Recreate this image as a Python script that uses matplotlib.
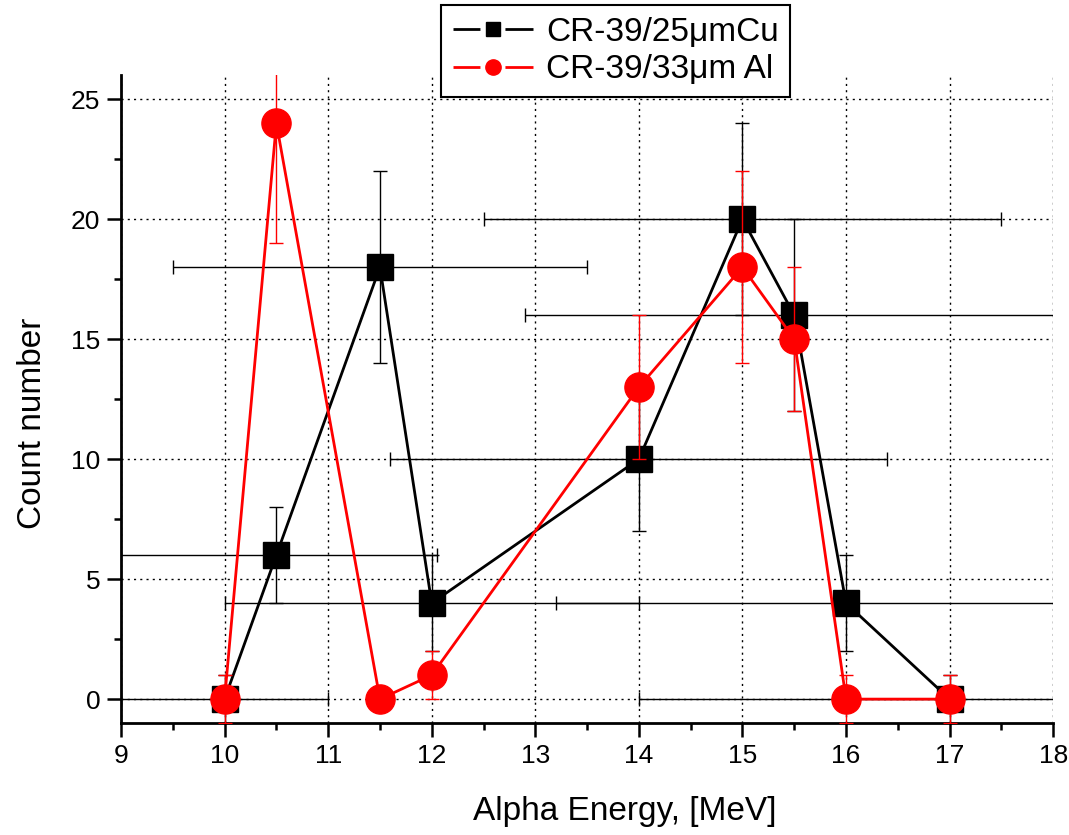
import matplotlib
matplotlib.use("Agg")
import matplotlib.pyplot as plt
from matplotlib.lines import Line2D
from matplotlib.ticker import MultipleLocator

plt.rcParams["font.family"] = ["Liberation Sans", "DejaVu Sans"]

# CR-39 / 25 um Cu
cu_energy = [10, 10.5, 11.5, 12, 14, 15, 15.5, 16, 17]
cu_count = [0, 6, 18, 4, 10, 20, 16, 4, 0]
cu_count_err = [1, 2, 4, 2, 3, 4, 4, 2, 1]
cu_energy_err = [1, 1.55, 2, 2, 2.4, 2.5, 2.6, 2.8, 3]

# CR-39 / 33 um Al
al_energy = [10, 10.5, 11.5, 12, 14, 15, 15.5, 16, 17]
al_count = [0, 24, 0, 1, 13, 18, 15, 0, 0]
al_count_err = [1, 5, 0, 1, 3, 4, 3, 1, 1]

labels = ["CR-39/25\u03bcmCu", "CR-39/33\u03bcm Al"]

fig = plt.figure(figsize=(10.69, 8.35), dpi=100)
ax = fig.add_axes([0.1132, 0.134, 0.872, 0.776])

ax.errorbar(cu_energy, cu_count, yerr=cu_count_err, xerr=cu_energy_err,
            fmt="none", ecolor="black", elinewidth=1, capsize=5, capthick=1, zorder=3)
ax.plot(cu_energy, cu_count, color="black", lw=2, marker="s", ms=18.5,
        mfc="black", mec="black", zorder=4)

ax.errorbar(al_energy, al_count, yerr=al_count_err,
            fmt="none", ecolor="red", elinewidth=1, capsize=5, capthick=1, zorder=5)
ax.plot(al_energy, al_count, color="red", lw=2, marker="o", ms=21,
        mfc="red", mec="red", zorder=6)

ax.set_xlim(9, 18)
ax.set_ylim(-1, 26)
ax.xaxis.set_major_locator(MultipleLocator(1))
ax.xaxis.set_minor_locator(MultipleLocator(0.5))
ax.yaxis.set_major_locator(MultipleLocator(5))
ax.yaxis.set_minor_locator(MultipleLocator(2.5))
ax.tick_params(which="major", direction="out", length=10, width=1.8, labelsize=19, pad=5)
ax.tick_params(which="minor", direction="out", length=5, width=1.8)

ax.grid(True, which="major", color="black", linestyle=(0, (1.5, 3)), linewidth=1)
for s in ["top", "right"]:
    ax.spines[s].set_visible(False)
for s in ["left", "bottom"]:
    ax.spines[s].set_linewidth(2)

ax.set_xlabel("Alpha Energy, [MeV]", fontsize=24)
ax.set_ylabel("Count number", fontsize=24)
ax.xaxis.set_label_coords(0.54, -0.113)
ax.yaxis.set_label_coords(-0.078, 0.463)

# legend handles: line broken around the marker
gap = (0, (9.7, 9.0, 20, 1))
handles = [
    Line2D([], [], color="black", lw=2, linestyle=gap, marker="s", ms=9.4, mfc="black", mec="black"),
    Line2D([], [], color="red", lw=2, linestyle=gap, marker="o", ms=11, mfc="red", mec="red"),
]
leg = fig.legend(handles, labels, loc="upper left", bbox_to_anchor=(441 / 1069, 1 - 5 / 835),
                 fontsize=24, frameon=True, fancybox=False, edgecolor="black", framealpha=1,
                 handlelength=2.4, handletextpad=0.4, borderpad=0.35, labelspacing=0.2,
                 borderaxespad=0)
leg.get_frame().set_linewidth(1.5)

fig.savefig("out.png", dpi=100)
